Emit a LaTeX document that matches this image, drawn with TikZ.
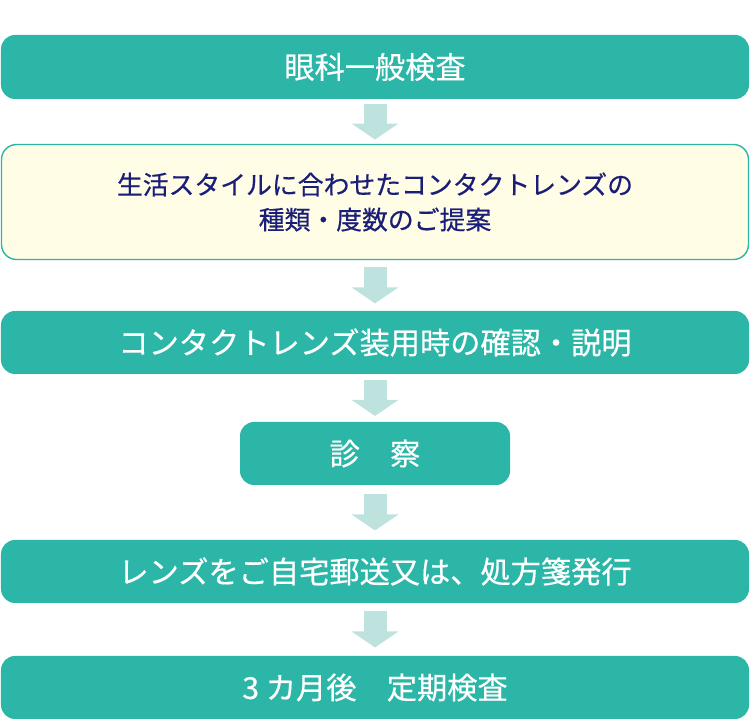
\documentclass[tikz,border=0pt]{standalone}
\usepackage{fontspec}
\setmainfont{Noto Sans CJK JP}[FakeBold=0.5]
\usetikzlibrary{%
  arrows.meta,%
  calc%
}
\definecolor{teal1}{RGB}{43,182,168}
\definecolor{paleteal}{RGB}{190,227,223}
\definecolor{cream}{RGB}{255,253,230}
\definecolor{navy}{RGB}{26,30,120}
\tikzset{
  stepbox/.style={rounded corners=0.28cm,fill=teal1,text=white,
    minimum width=14.96cm,minimum height=1.26cm,inner sep=0pt,
    font=\fontsize{17.2}{20}\selectfont},
  notebox/.style={rounded corners=0.3cm,draw=teal1,line width=0.8pt,
    fill=cream,text=navy,minimum width=14.94cm,minimum height=2.3cm,
    inner sep=0pt,align=center,font=\fontsize{14.7}{19.9}\selectfont},
  flowarrow/.style={paleteal,line width=0.46cm,
    -{Triangle[width=0.92cm,length=0.32cm]}}
}

\begin{document}
\begin{tikzpicture}
  \useasboundingbox (0,0) rectangle (15,14.4);
  \node[stepbox,minimum height=1.28cm] (exam) at (7.5,13.06) {眼科一般検査};
  \node[notebox] (plan) at (7.5,10.36)
  {生活スタイルに合わせたコンタクトレンズの\\種類・度数のご提案};
  \node[stepbox] (fit) at (7.5,7.55) {コンタクトレンズ装用時の確認・説明};
  \node[stepbox,minimum width=5.4cm] (consult) at (7.5,5.33) {診　察};
  \node[stepbox] (ship) at (7.5,2.97) {レンズをご自宅郵送又は、処方箋発行};
  \node[stepbox] (check) at (7.5,0.65) {3 カ月後　定期検査};
  \foreach \a/\b in {exam/plan,plan/fit,fit/consult,consult/ship,ship/check}{
    \coordinate (m) at ($(\a.south)!0.5!(\b.north)$);
    \draw[flowarrow] ($(m)+(0,0.36)$) -- ($(m)-(0,0.36)$);
  }
\end{tikzpicture}
\end{document}
